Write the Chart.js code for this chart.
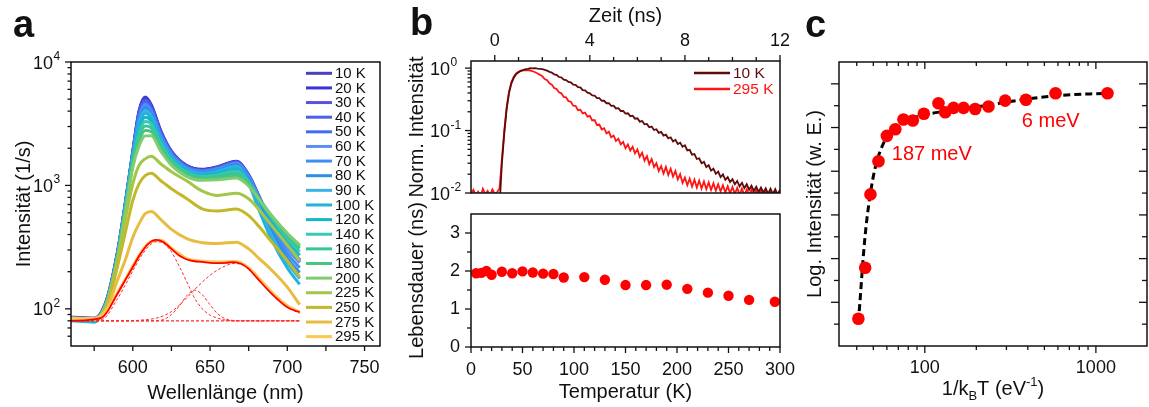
<!DOCTYPE html>
<html>
<head>
<meta charset="utf-8">
<title>Photolumineszenz</title>
<script src="https://cdn.jsdelivr.net/npm/chart.js@4.4.1/dist/chart.umd.min.js"></script>
<style>
  html, body { margin: 0; padding: 0; background: #fff; }
  #fig { position: relative; width: 1149px; height: 407px; overflow: hidden; font-family: 'Liberation Sans', Arial, sans-serif; }
  #fig canvas { position: absolute; }
  .plabel { position: absolute; font-weight: bold; font-size: 38px; line-height: 38px; color: #111; }
</style>
</head>
<body>
<div id="fig">
  <canvas id="chartA" width="400" height="407" style="left:0;top:0;width:400px;height:407px"></canvas>
  <canvas id="chartB1" width="400" height="200" style="left:400px;top:0;width:400px;height:200px"></canvas>
  <canvas id="chartB2" width="400" height="207" style="left:400px;top:200px;width:400px;height:207px"></canvas>
  <canvas id="chartC" width="359" height="407" style="left:790px;top:0;width:359px;height:407px"></canvas>
  <div class="plabel" style="left:13px;top:5px">a</div>
  <div class="plabel" style="left:410px;top:3px">b</div>
  <div class="plabel" style="left:805px;top:5px">c</div>
</div>
<script>
const FONT = "'Liberation Sans', Arial, sans-serif";
Chart.defaults.font.family = FONT;
Chart.defaults.color = '#111';

// ---- panel a: PL spectra ----
const wavelength = [560, 575, 583, 590, 595, 600, 604, 608, 612, 618, 625, 635, 645, 655, 667, 675, 682, 690, 700, 708];
const spec10K  = [85, 84, 118, 285, 700, 1900, 4000, 5200, 4500, 2800, 1900, 1450, 1350, 1420, 1570, 1220, 800, 500, 320, 250];
const spec20K  = [84, 83, 117, 283, 695, 1880, 3930, 5080, 4420, 2760, 1880, 1440, 1345, 1412, 1562, 1215, 798, 498, 318, 248];
const spec30K  = [86, 84, 117, 281, 690, 1860, 3850, 4950, 4330, 2720, 1865, 1432, 1335, 1405, 1552, 1210, 795, 496, 316, 246];
const spec40K  = [84, 82, 116, 279, 686, 1840, 3740, 4800, 4220, 2670, 1845, 1422, 1322, 1392, 1540, 1203, 790, 493, 314, 243];
const spec50K  = [85, 83, 116, 277, 681, 1820, 3640, 4660, 4110, 2620, 1820, 1408, 1308, 1378, 1524, 1192, 784, 489, 312, 240];
const spec60K  = [84, 82, 115, 275, 676, 1800, 3530, 4520, 4000, 2570, 1800, 1395, 1296, 1365, 1505, 1180, 776, 484, 308, 236];
const spec70K  = [83, 82, 114, 272, 670, 1780, 3420, 4380, 3890, 2510, 1775, 1380, 1283, 1350, 1485, 1150, 735, 450, 282, 215];
const spec80K  = [83, 81, 114, 270, 665, 1755, 3300, 4230, 3780, 2450, 1750, 1365, 1265, 1325, 1455, 1110, 695, 418, 258, 196];
const spec90K  = [82, 80, 113, 267, 656, 1725, 3150, 4040, 3640, 2380, 1712, 1345, 1245, 1302, 1422, 1070, 655, 388, 236, 176];
const spec100K = [80, 78, 112, 264, 646, 1695, 3000, 3840, 3490, 2310, 1678, 1322, 1224, 1280, 1385, 1030, 618, 360, 214, 158];
const spec120K = [82, 80, 112, 262, 640, 1660, 2820, 3560, 3320, 2260, 1650, 1300, 1205, 1250, 1340, 1080, 750, 520, 350, 272];
const spec140K = [83, 81, 112, 260, 628, 1610, 2630, 3290, 3130, 2190, 1612, 1278, 1182, 1220, 1300, 1068, 768, 545, 372, 290];
const spec160K = [83, 82, 112, 257, 614, 1550, 2450, 3030, 2930, 2100, 1570, 1250, 1160, 1182, 1250, 1050, 778, 560, 392, 308];
const spec180K = [84, 82, 111, 254, 598, 1480, 2270, 2780, 2730, 2010, 1520, 1220, 1138, 1150, 1200, 1020, 770, 565, 404, 320];
const spec200K = [84, 83, 111, 250, 580, 1400, 2080, 2520, 2530, 1900, 1460, 1180, 1100, 1110, 1150, 990, 760, 565, 410, 330];
const spec225K = [84, 83, 108, 246, 520, 1030, 1450, 1640, 1720, 1500, 1290, 1085, 900, 830, 865, 780, 630, 470, 330, 245];
const spec250K = [83, 82, 104, 218, 406, 755, 1030, 1200, 1255, 1095, 940, 780, 645, 620, 645, 570, 460, 347, 246, 182];
const spec275K = [83, 82, 100, 170, 246, 380, 488, 590, 615, 530, 440, 370, 343, 338, 347, 306, 254, 205, 150, 108];
const spec295K = [84, 83, 97, 135, 172, 222, 270, 318, 352, 360, 310, 255, 243, 240, 242, 215, 175, 136, 106, 94];
const specLabels = ['10 K', '20 K', '30 K', '40 K', '50 K', '60 K', '70 K', '80 K', '90 K', '100 K',
  '120 K', '140 K', '160 K', '180 K', '200 K', '225 K', '250 K', '275 K', '295 K'];
const spectra = [spec10K, spec20K, spec30K, spec40K, spec50K, spec60K, spec70K, spec80K, spec90K, spec100K,
  spec120K, spec140K, spec160K, spec180K, spec200K, spec225K, spec250K, spec275K, spec295K];
const specColors = ['#4a3fbf', '#3a34d6', '#5652e2', '#4b5fee', '#3e6bf7', '#5b8ef4', '#3f8ef5', '#2b8fe6', '#3db2e8', '#22b2da',
  '#12b6c6', '#3cc6b6', '#36c69a', '#46c680', '#80cc70', '#a2c748', '#c2b82a', '#e8bc40', '#fec850'];

// Gaussian fit of the 295 K spectrum and its components
const compWl   = [560, 580, 590, 595, 600, 605, 610, 615, 620, 625, 630, 635, 640, 645, 650, 655, 660, 665, 670, 675, 680, 690, 700, 708];
const fit295K  = [80, 85, 132, 170, 218, 279, 336, 362, 347, 306, 270, 251, 243, 240, 236, 235, 236, 239, 232, 211, 180, 132, 103, 94];
const compA    = [80, 82, 120, 155, 203, 262, 318, 350, 338, 290, 222, 165, 122, 100, 89, 84, 81, 80, 80, 80, 80, 80, 80, 80];
const compB    = [80, 80, 80, 80, 80, 80, 80, 80, 82, 90, 105, 128, 142, 130, 108, 91, 83, 80.5, 80, 80, 80, 80, 80, 80];
const compC    = [80, 80, 80, 80, 80, 81, 82, 84, 88, 95, 107, 123, 143, 165, 187, 207, 223, 233, 230, 211, 180, 132, 103, 92];
const baseWl   = [560, 708];
const baseline = [80, 80];

const aXTicks = [575, 600, 625, 650, 675, 700, 725, 750];
const aXMajor = [600, 650, 700, 750];
const aYTicks = [60, 70, 80, 90, 100, 200, 300, 400, 500, 600, 700, 800, 900, 1000,
  2000, 3000, 4000, 5000, 6000, 7000, 8000, 9000, 10000];
const aYMajor = [100, 1000, 10000];

// ---- panel b: decay curves and lifetime ----
const timeNs = [
  -1, -0.9, -0.8, -0.7, -0.6, -0.5, -0.4, -0.3, -0.2, -0.1,
  0, 0.1, 0.2, 0.3, 0.4, 0.5, 0.6, 0.7, 0.8, 0.9,
  1, 1.1, 1.2, 1.3, 1.4, 1.5, 1.6, 1.7, 1.8, 1.9,
  2, 2.1, 2.2, 2.3, 2.4, 2.5, 2.6, 2.7, 2.8, 2.9,
  3, 3.1, 3.2, 3.3, 3.4, 3.5, 3.6, 3.7, 3.8, 3.9,
  4, 4.1, 4.2, 4.3, 4.4, 4.5, 4.6, 4.7, 4.8, 4.9,
  5, 5.1, 5.2, 5.3, 5.4, 5.5, 5.6, 5.7, 5.8, 5.9,
  6, 6.1, 6.2, 6.3, 6.4, 6.5, 6.6, 6.7, 6.8, 6.9,
  7, 7.1, 7.2, 7.3, 7.4, 7.5, 7.6, 7.7, 7.8, 7.9,
  8, 8.1, 8.2, 8.3, 8.4, 8.5, 8.6, 8.7, 8.8, 8.9,
  9, 9.1, 9.2, 9.3, 9.4, 9.5, 9.6, 9.7, 9.8, 9.9,
  10, 10.1, 10.2, 10.3, 10.4, 10.5, 10.6, 10.7, 10.8, 10.9,
  11, 11.1, 11.2, 11.3, 11.4, 11.5, 11.6, 11.7, 11.8, 11.9,
  12];
const decay10K = [
  0.006, 0.006, 0.006, 0.006, 0.006, 0.006, 0.006, 0.006, 0.006, 0.006,
  0.006, 0.006, 0.006, 0.03, 0.09, 0.22, 0.40, 0.57, 0.70, 0.80,
  0.86, 0.91, 0.93, 0.965, 0.975, 0.995, 0.99, 1.0, 0.985, 0.975,
  0.96, 0.94, 0.91, 0.87, 0.85, 0.79, 0.78, 0.72, 0.71, 0.655,
  0.645, 0.60, 0.59, 0.545, 0.54, 0.495, 0.49, 0.445, 0.44, 0.405,
  0.395, 0.365, 0.362, 0.331, 0.33, 0.30, 0.30, 0.274, 0.275, 0.249,
  0.25, 0.226, 0.228, 0.206, 0.207, 0.187, 0.189, 0.170, 0.173, 0.155,
  0.157, 0.139, 0.142, 0.126, 0.128, 0.113, 0.116, 0.102, 0.105, 0.092,
  0.095, 0.083, 0.086, 0.075, 0.078, 0.067, 0.071, 0.061, 0.064, 0.055,
  0.058, 0.048, 0.049, 0.041, 0.042, 0.035, 0.036, 0.030, 0.0315, 0.026,
  0.0278, 0.0228, 0.0245, 0.0203, 0.022, 0.018, 0.0198, 0.0163, 0.018, 0.015,
  0.0166, 0.0138, 0.0156, 0.0128, 0.0146, 0.012, 0.0138, 0.0113, 0.0131, 0.0108,
  0.0126, 0.0104, 0.0122, 0.0101, 0.0119, 0.0097, 0.0117, 0.0096, 0.0115, 0.0094,
  0.0112];
const decay295K = [
  0.0098, 0.0112, 0.0093, 0.0105, 0.0089, 0.0117, 0.0096, 0.0108, 0.0091, 0.0114,
  0.0097, 0.0103, 0.0118, 0.035, 0.10, 0.24, 0.42, 0.60, 0.73, 0.82,
  0.87, 0.90, 0.92, 0.93, 0.925, 0.91, 0.89, 0.86, 0.82, 0.78,
  0.74, 0.67, 0.64, 0.57, 0.545, 0.48, 0.465, 0.41, 0.395, 0.345,
  0.34, 0.295, 0.29, 0.25, 0.248, 0.212, 0.216, 0.188, 0.194, 0.167,
  0.172, 0.145, 0.147, 0.122, 0.125, 0.104, 0.109, 0.090, 0.096, 0.078,
  0.083, 0.068, 0.074, 0.060, 0.066, 0.052, 0.060, 0.048, 0.055, 0.043,
  0.050, 0.038, 0.044, 0.033, 0.039, 0.029, 0.035, 0.026, 0.030, 0.0225,
  0.027, 0.0205, 0.0262, 0.0195, 0.0245, 0.0183, 0.0225, 0.0165, 0.020, 0.0145,
  0.0177, 0.0133, 0.017, 0.0127, 0.0163, 0.0122, 0.0158, 0.0118, 0.0153, 0.0115,
  0.0148, 0.0112, 0.0143, 0.0109, 0.0138, 0.0106, 0.0133, 0.0102, 0.0129, 0.0099,
  0.0125, 0.0096, 0.0121, 0.0094, 0.0118, 0.0092, 0.0115, 0.0091, 0.0113, 0.0089,
  0.0111, 0.0088, 0.011, 0.0087, 0.0109, 0.0087, 0.0108, 0.0088, 0.0109, 0.009,
  0.0112];
const lifeT  = [5, 10, 15, 20, 30, 40, 50, 60, 70, 80, 90, 110, 130, 150, 170, 190, 210, 230, 250, 270, 295];
const lifeNs = [1.94, 1.95, 2.00, 1.90, 1.98, 1.94, 1.99, 1.96, 1.93, 1.92, 1.83, 1.84, 1.77, 1.63, 1.63, 1.64, 1.53, 1.43, 1.35, 1.24, 1.19];

const b1XTicks = [0, 1, 2, 3, 4, 5, 6, 7, 8, 9, 10, 11, 12];
const b1XMajor = [0, 4, 8, 12];
const b1YTicks = [0.01, 0.02, 0.03, 0.04, 0.05, 0.06, 0.07, 0.08, 0.09, 0.1, 0.2, 0.3, 0.4, 0.5, 0.6, 0.7, 0.8, 0.9, 1];
const b1YMajor = [0.01, 0.1, 1];
const b2XTicks = [0, 10, 20, 30, 40, 50, 60, 70, 80, 90, 100, 110, 120, 130, 140, 150, 160, 170, 180, 190, 200,
  210, 220, 230, 240, 250, 260, 270, 280, 290, 300];
const b2XMajor = [0, 50, 100, 150, 200, 250, 300];
const b2YTicks = [0, 0.5, 1, 1.5, 2, 2.5, 3];
const b2YMajor = [0, 1, 2, 3];

// ---- panel c: Arrhenius plot ----
const invKT   = [40.9, 44.8, 48.1, 53.6, 60.0, 67.2, 75.0, 85.1, 98.7, 120.2, 131.5, 147.2, 168.4, 196.9, 235.6, 295, 390, 581, 1169];
const logInt  = [1.25, 3.58, 6.94, 8.46, 9.62, 9.92, 10.37, 10.32, 10.63, 11.11, 10.70, 10.90, 10.90, 10.85, 10.96, 11.23, 11.27, 11.57, 11.57];
const fitInvKT = [40.9, 42.1, 43.2, 44.5, 46.0, 47.7, 49.9, 52.1, 54.5, 58.4, 62.4, 71.4, 85.5, 100, 128, 168, 240, 376, 589, 1169];
const fitLogInt = [1.10, 2.39, 3.61, 4.83, 5.90, 6.81, 7.73, 8.37, 8.87, 9.41, 9.82, 10.20, 10.44, 10.59, 10.73, 10.85, 11.04, 11.28, 11.46, 11.57];

const cXTicks = [40, 50, 60, 70, 80, 90, 100, 200, 300, 400, 500, 600, 700, 800, 900, 1000];
const cXMajor = [100, 1000];
const cYTicks = [1, 2, 3, 4, 5, 6, 7, 8, 9, 10, 11, 12];
const cYMajor = [2, 4, 6, 8, 10, 12];

// ---- helpers ----
function pts(xs, ys) { return xs.map((x, i) => ({ x: x, y: ys[i] })); }

function setTicks(values, majors) {
  return scale => { scale.ticks = values.map(v => ({ value: v, major: majors.includes(v) })); };
}

function majorLabel(v, i, ticks) { return ticks[i] && ticks[i].major ? String(v) : ''; }

function axisBase(extra) {
  const base = {
    grid: { display: false, drawTicks: true, tickLength: 8 },
    border: { display: false },
    ticks: { autoSkip: false, maxRotation: 0, minRotation: 0, font: { size: 18 }, color: '#111', padding: 3, callback: majorLabel }
  };
  const out = Object.assign({}, base, extra);
  out.ticks = Object.assign({}, base.ticks, extra.ticks || {});
  out.grid = Object.assign({}, base.grid, extra.grid || {});
  return out;
}

function framePlugin() {
  return {
    id: 'frame',
    afterDraw(chart) {
      const { ctx, chartArea: a } = chart;
      ctx.save();
      ctx.strokeStyle = '#111';
      ctx.lineWidth = 1.5;
      ctx.strokeRect(a.left, a.top, a.right - a.left, a.bottom - a.top);
      ctx.restore();
    }
  };
}

// tick marks on any side of the plot box, outward (dir 1) or inward (dir -1)
function tickPlugin(sides) {
  return {
    id: 'tickMarks',
    afterDraw(chart) {
      const { ctx, chartArea: a } = chart;
      ctx.save();
      ctx.strokeStyle = '#111';
      ctx.lineWidth = 1.3;
      sides.forEach(sd => {
        const s = chart.scales[sd.axis];
        s.ticks.forEach(t => {
          const p = s.getPixelForValue(t.value);
          const len = (t.major ? sd.major : sd.minor) * sd.dir;
          ctx.beginPath();
          if (sd.side === 'bottom') { ctx.moveTo(p, a.bottom); ctx.lineTo(p, a.bottom + len); }
          if (sd.side === 'top') { ctx.moveTo(p, a.top); ctx.lineTo(p, a.top - len); }
          if (sd.side === 'left') { ctx.moveTo(a.left, p); ctx.lineTo(a.left - len, p); }
          if (sd.side === 'right') { ctx.moveTo(a.right, p); ctx.lineTo(a.right + len, p); }
          ctx.stroke();
        });
      });
      ctx.restore();
    }
  };
}

// "10^n" labels for decades of a log axis
function powerPlugin(axisId, gap) {
  return {
    id: 'powerLabels',
    afterDraw(chart) {
      const ctx = chart.ctx;
      const s = chart.scales[axisId];
      ctx.save();
      ctx.fillStyle = '#111';
      ctx.textBaseline = 'alphabetic';
      s.ticks.forEach(t => {
        const e = Math.log10(t.value);
        if (Math.abs(e - Math.round(e)) > 1e-6) return;
        const y = s.getPixelForValue(t.value);
        const xr = s.right - gap;
        ctx.font = '18px ' + FONT;
        ctx.textAlign = 'right';
        ctx.fillText('10', xr, y + 6.5);
        ctx.font = '12px ' + FONT;
        ctx.textAlign = 'left';
        ctx.fillText(String(Math.round(e)), xr + 0.5, y - 2);
      });
      ctx.restore();
    }
  };
}

function legendPlugin(labels, colors, o) {
  return {
    id: 'lineLegend',
    afterDraw(chart) {
      const ctx = chart.ctx;
      ctx.save();
      ctx.font = o.size + 'px ' + FONT;
      ctx.textBaseline = 'middle';
      ctx.textAlign = 'left';
      labels.forEach((lab, i) => {
        const y = o.y + i * o.step;
        ctx.strokeStyle = colors[i];
        ctx.lineWidth = o.lw;
        ctx.beginPath();
        ctx.moveTo(o.x, y);
        ctx.lineTo(o.x + o.len, y);
        ctx.stroke();
        ctx.fillStyle = o.textColor || colors[i];
        ctx.fillText(lab, o.x + o.len + o.gap, y + 0.5);
      });
      ctx.restore();
    }
  };
}

const noUi = { legend: { display: false }, tooltip: { enabled: false } };

// ---- chart a ----
const aDatasets = [
  { data: pts(compWl, fit295K), borderColor: '#ff0000', borderWidth: 1.8 },
  { data: pts(compWl, compA), borderColor: '#ff2a2a', borderWidth: 1, borderDash: [3, 2] },
  { data: pts(compWl, compB), borderColor: '#ff2a2a', borderWidth: 1, borderDash: [3, 2] },
  { data: pts(compWl, compC), borderColor: '#ff2a2a', borderWidth: 1, borderDash: [3, 2] },
  { data: pts(baseWl, baseline), borderColor: '#ff2a2a', borderWidth: 1.2, borderDash: [3, 2] }
];
for (let i = spectra.length - 1; i >= 0; i--) {
  aDatasets.push({ data: pts(wavelength, spectra[i]), borderColor: specColors[i], borderWidth: 3 });
}
aDatasets.forEach(d => { d.pointRadius = 0; d.cubicInterpolationMode = 'monotone'; d.fill = false; });

new Chart(document.getElementById('chartA'), {
  type: 'line',
  data: { datasets: aDatasets },
  options: {
    responsive: false,
    animation: false,
    layout: { autoPadding: false, padding: { top: 62, right: 20, bottom: 0, left: 0 } },
    plugins: noUi,
    scales: {
      x: axisBase({
        type: 'linear', min: 560, max: 760,
        afterBuildTicks: setTicks(aXTicks, aXMajor),
        afterFit: s => { s.height = 61; },
        title: { display: true, text: 'Wellenlänge (nm)', font: { size: 20 }, color: '#111', padding: { top: 0, bottom: 2 } }
      }),
      y: axisBase({
        type: 'logarithmic', min: 50, max: 10000,
        afterBuildTicks: setTicks(aYTicks, aYMajor),
        afterFit: s => { s.width = 71; },
        ticks: { display: false },
        title: { display: true, text: 'Intensität (1/s)', font: { size: 20 }, color: '#111', padding: { top: 12, bottom: 0 } }
      })
    }
  },
  plugins: [
    framePlugin(),
    tickPlugin([
      { axis: 'x', side: 'bottom', dir: 1, major: 5, minor: 5 },
      { axis: 'y', side: 'left', dir: 1, major: 6, minor: 3.5 }
    ]),
    powerPlugin('y', 18),
    legendPlugin(specLabels, specColors, { x: 306, y: 73.3, step: 14.63, len: 26, gap: 3, lw: 3, size: 15, textColor: '#111' })
  ]
});

// ---- chart b (top): normalized decay ----
new Chart(document.getElementById('chartB1'), {
  type: 'line',
  data: {
    datasets: [
      { data: pts(timeNs, decay10K), borderColor: '#5e0b0b', borderWidth: 1.8, pointRadius: 0 },
      { data: pts(timeNs, decay295K), borderColor: '#ff1414', borderWidth: 1.8, pointRadius: 0 }
    ]
  },
  options: {
    responsive: false,
    animation: false,
    layout: { autoPadding: false, padding: { top: 0, right: 20, bottom: 7, left: 0 } },
    plugins: noUi,
    scales: {
      x: axisBase({
        type: 'linear', position: 'top', min: -1, max: 12,
        afterBuildTicks: setTicks(b1XTicks, b1XMajor),
        afterFit: s => { s.height = 61; },
        grid: { tickLength: 6 },
        title: { display: true, text: 'Zeit (ns)', font: { size: 20 }, color: '#111', padding: { top: 4, bottom: 0 } }
      }),
      y: axisBase({
        type: 'logarithmic', min: 0.01, max: 1.3,
        afterBuildTicks: setTicks(b1YTicks, b1YMajor),
        afterFit: s => { s.width = 71; },
        ticks: { display: false },
        title: { display: true, text: 'Norm. Intensität', font: { size: 20 }, color: '#111', padding: { top: 5, bottom: 0 } }
      })
    }
  },
  plugins: [
    framePlugin(),
    tickPlugin([
      { axis: 'x', side: 'top', dir: 1, major: 6, minor: 4 },
      { axis: 'y', side: 'left', dir: 1, major: 6, minor: 3.5 }
    ]),
    powerPlugin('y', 21),
    legendPlugin(['10 K', '295 K'], ['#5e0b0b', '#ff1414'], { x: 294, y: 73, step: 16, len: 36, gap: 3, lw: 2.5, size: 15.5 })
  ]
});

// ---- chart b (bottom): lifetime ----
new Chart(document.getElementById('chartB2'), {
  type: 'scatter',
  data: {
    datasets: [
      { data: pts(lifeT, lifeNs), backgroundColor: '#ff0000', borderWidth: 0, pointRadius: 5.2 }
    ]
  },
  options: {
    responsive: false,
    animation: false,
    layout: { autoPadding: false, padding: { top: 14, right: 20, bottom: 0, left: 0 } },
    plugins: noUi,
    scales: {
      x: axisBase({
        type: 'linear', min: 0, max: 300,
        afterBuildTicks: setTicks(b2XTicks, b2XMajor),
        afterFit: s => { s.height = 60; },
        ticks: { padding: 4 },
        title: { display: true, text: 'Temperatur (K)', font: { size: 20 }, color: '#111', padding: { top: 0, bottom: 3 } }
      }),
      y: axisBase({
        type: 'linear', min: 0, max: 3.5,
        afterBuildTicks: setTicks(b2YTicks, b2YMajor),
        afterFit: s => { s.width = 71; },
        title: { display: true, text: 'Lebensdauer (ns)', font: { size: 20 }, color: '#111', padding: { top: 5, bottom: 0 } }
      })
    }
  },
  plugins: [
    framePlugin(),
    tickPlugin([
      { axis: 'x', side: 'bottom', dir: 1, major: 6, minor: 4 },
      { axis: 'y', side: 'left', dir: 1, major: 6, minor: 4 }
    ])
  ]
});

// ---- chart c: Arrhenius ----
new Chart(document.getElementById('chartC'), {
  type: 'scatter',
  data: {
    datasets: [
      { data: pts(invKT, logInt), backgroundColor: '#ff0000', borderWidth: 0, pointRadius: 6.3 },
      { data: pts(fitInvKT, fitLogInt), showLine: true, borderColor: '#000', borderWidth: 3, borderDash: [7, 4],
        pointRadius: 0, cubicInterpolationMode: 'monotone' }
    ]
  },
  options: {
    responsive: false,
    animation: false,
    layout: { autoPadding: false, padding: { top: 62, right: 2, bottom: 0, left: 0 } },
    plugins: noUi,
    scales: {
      x: axisBase({
        type: 'logarithmic', min: 31.5, max: 1990,
        afterBuildTicks: setTicks(cXTicks, cXMajor),
        afterFit: s => { s.height = 61; }
      }),
      y: axisBase({
        type: 'linear', min: 0, max: 13,
        afterBuildTicks: setTicks(cYTicks, cYMajor),
        afterFit: s => { s.width = 49; },
        ticks: { display: false },
        title: { display: true, text: 'Log. Intensität (w. E.)', font: { size: 20 }, color: '#111', padding: { top: 13, bottom: 0 } }
      })
    }
  },
  plugins: [
    framePlugin(),
    tickPlugin([
      { axis: 'x', side: 'bottom', dir: 1, major: 7, minor: 4 },
      { axis: 'x', side: 'top', dir: -1, major: 7, minor: 4 },
      { axis: 'y', side: 'left', dir: 1, major: 8, minor: 5 },
      { axis: 'y', side: 'right', dir: -1, major: 8, minor: 5 }
    ]),
    {
      id: 'richTitle',
      afterDraw(chart) {
        // x axis title 1/k_B T (eV^-1) with sub- and superscript
        const ctx = chart.ctx;
        const a = chart.chartArea;
        const parts = [
          { t: '1/k', s: 20, dy: 0 }, { t: 'B', s: 13, dy: 5 }, { t: 'T (eV', s: 20, dy: 0 },
          { t: '-1', s: 13, dy: -9 }, { t: ')', s: 20, dy: 0 }
        ];
        ctx.save();
        ctx.fillStyle = '#111';
        ctx.textBaseline = 'alphabetic';
        ctx.textAlign = 'left';
        let w = 0;
        parts.forEach(p => { ctx.font = p.s + 'px ' + FONT; p.w = ctx.measureText(p.t).width; w += p.w; });
        let x = (a.left + a.right) / 2 - w / 2;
        parts.forEach(p => { ctx.font = p.s + 'px ' + FONT; ctx.fillText(p.t, x, 395 + p.dy); x += p.w; });
        ctx.restore();
      }
    },
    {
      id: 'energyNotes',
      afterDraw(chart) {
        const ctx = chart.ctx;
        const sx = chart.scales.x, sy = chart.scales.y;
        ctx.save();
        ctx.fillStyle = '#ff0000';
        ctx.font = '20px ' + FONT;
        ctx.textAlign = 'left';
        ctx.textBaseline = 'alphabetic';
        ctx.fillText('187 meV', sx.getPixelForValue(64.1), sy.getPixelForValue(8.51));
        ctx.fillText('6 meV', sx.getPixelForValue(369), sy.getPixelForValue(10.02));
        ctx.restore();
      }
    }
  ]
});
</script>
</body>
</html>
